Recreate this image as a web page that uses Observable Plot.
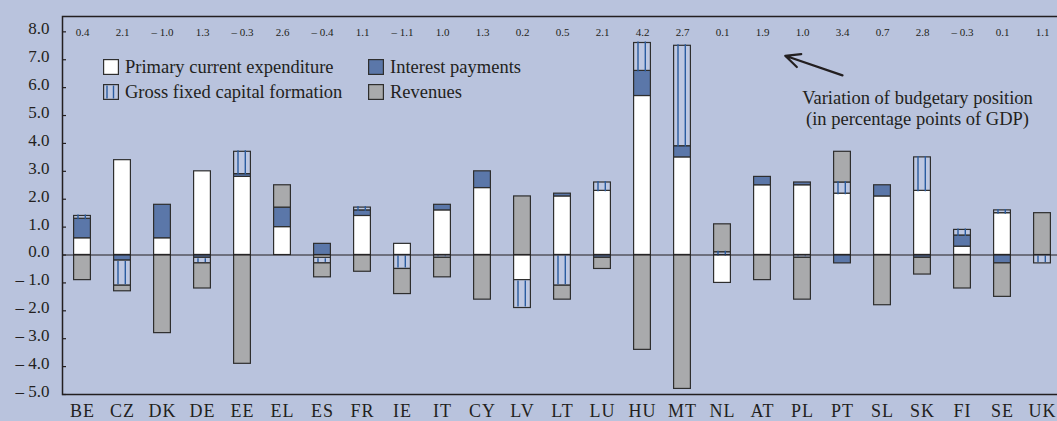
<!DOCTYPE html>
<html>
<head>
<meta charset="utf-8">
<script src="https://cdn.jsdelivr.net/npm/d3@7"></script>
<script src="https://cdn.jsdelivr.net/npm/@observablehq/plot@0.6"></script>
<style>
  html, body { margin: 0; padding: 0; background: #B9C3DD; overflow: hidden; }
  #wrap { position: relative; width: 1062px; height: 421px; font-family: "Liberation Serif", "DejaVu Serif", serif; color: #231f20; }
  #wrap svg { display: block; }
  #wrap svg, #wrap svg text { font-family: "Liberation Serif", "DejaVu Serif", serif !important; }
  g[aria-label="x-axis tick label"] text { letter-spacing: 1px; }
  g[aria-label="variation"] text { letter-spacing: 1.8px; }
  .lg-item { position: absolute; display: flex; align-items: center; font-size: 18.5px; line-height: 18.5px; white-space: nowrap; }
  .lg-item svg { margin-right: 6px; }
</style>
</head>
<body>
<div id="wrap"></div>
<script>
// ---- Data ----
const countries = ["BE","CZ","DK","DE","EE","EL","ES","FR","IE","IT","CY","LV","LT","LU","HU","MT","NL","AT","PL","PT","SL","SK","FI","SE","UK"];
const variation = [0.4, 2.1, -1.0, 1.3, -0.3, 2.6, -0.4, 1.1, -1.1, 1.0, 1.3, 0.2, 0.5, 2.1, 4.2, 2.7, 0.1, 1.9, 1.0, 3.4, 0.7, 2.8, -0.3, 0.1, 1.1];
const primaryCurrent = [0.6, 3.4, 0.6, 3.0, 2.8, 1.0, -0.1, 1.4, 0.4, 1.6, 2.4, -0.9, 2.1, 2.3, 5.7, 3.5, -1.0, 2.5, 2.5, 2.2, 2.1, 2.3, 0.3, 1.5, 0];
const interestPayments = [0.7, -0.2, 1.2, -0.1, 0.1, 0.7, 0.4, 0.2, 0, 0.2, 0.6, 0, 0.1, -0.1, 0.9, 0.4, 0, 0.3, 0.1, -0.3, 0.4, -0.1, 0.4, -0.3, 0];
const grossFixedCapital = [0.1, -0.9, 0, -0.2, 0.8, 0, -0.2, 0.1, -0.5, -0.1, 0, -1.0, -1.1, 0.3, 1.0, 3.6, 0.1, 0, -0.1, 0.4, 0, 1.2, 0.2, 0.1, -0.3];
const revenues = [-0.9, -0.2, -2.8, -0.9, -3.9, 0.8, -0.5, -0.6, -0.9, -0.7, -1.6, 2.1, -0.5, -0.4, -3.4, -4.8, 1.0, -0.9, -1.5, 1.1, -1.8, -0.6, -1.2, -1.2, 1.5];
const seriesNames = ["Primary current expenditure", "Interest payments", "Gross fixed capital formation", "Revenues"];
const seriesColors = ["#FFFFFF", "#5B77A9", "#BEC8E2", "#A9AAAC"];
const yTicks = [-5, -4, -3, -2, -1, 0, 1, 2, 3, 4, 5, 6, 7, 8];
const annotationLines = ["Variation of budgetary position", "(in percentage points of GDP)"];
const annotationAnchor = {country: "SK", value: 5.29};
const arrowSpec = {fromCountry: "PT", fromValue: 6.44, toCountry: "AT", toValue: 7.42};

// ---- Derived stacked rows (positive and negative stacked separately) ----
const seriesValues = [primaryCurrent, interestPayments, grossFixedCapital, revenues];
const rows = [];
countries.forEach((c, i) => {
  let pos = 0, neg = 0;
  seriesValues.forEach((vals, s) => {
    const v = vals[i];
    if (!v) return;
    let y1, y2;
    if (v > 0) { y1 = pos; y2 = pos + v; pos = y2; }
    else { y1 = neg; y2 = neg + v; neg = y2; }
    rows.push({country: c, series: seriesNames[s], y1, y2});
  });
});
const hatchRows = rows.filter(d => d.series === seriesNames[2]);

const fmt = v => v < 0 ? "\u2013 " + Math.abs(v).toFixed(1) : v.toFixed(1);
const ink = "#231f20";

const chart = Plot.plot({
  width: 1062,
  height: 421,
  marginLeft: 62,
  marginRight: 0,
  marginTop: 16,
  marginBottom: 27,
  style: {background: "#B9C3DD", fontFamily: "'Liberation Serif', serif", color: ink, overflow: "visible"},
  x: {domain: countries, paddingInner: 0.58, paddingOuter: 0.29, align: 0.5, round: false},
  y: {domain: [-5, 8.55]},
  color: {domain: seriesNames, range: seriesColors},
  marks: [
    Plot.barY(rows, {x: "country", y1: "y1", y2: "y2", fill: "series", stroke: "#2e2e2e", strokeWidth: 1.2}),
    Plot.ruleX(hatchRows, {x: "country", y1: "y1", y2: "y2", dx: -4.5, stroke: "#2a5ca0", strokeWidth: 1.4, insetTop: 1, insetBottom: 1}),
    Plot.ruleX(hatchRows, {x: "country", y1: "y1", y2: "y2", dx: 2.8, stroke: "#2a5ca0", strokeWidth: 1.4, insetTop: 1, insetBottom: 1}),
    Plot.ruleY([0], {stroke: ink, strokeWidth: 1.2}),
    Plot.tickY(yTicks, {y: d => d, insetRight: 996, stroke: ink, strokeWidth: 1.2}),
    Plot.frame({stroke: ink, strokeWidth: 1.5}),
    Plot.axisY({ticks: yTicks, tickFormat: fmt, tickSize: 0, tickPadding: 13, fontSize: 17, dy: -3, label: null, fill: ink}),
    Plot.axisX({tickSize: 0, tickPadding: 10, fontSize: 18, label: null, fill: ink}),
    Plot.text(countries, {x: d => d, text: (d, i) => fmt(variation[i]), frameAnchor: "top", dy: 12, fontSize: 11, fill: ink, ariaLabel: "variation"}),
    Plot.text([annotationLines.join("\n")], {x: () => annotationAnchor.country, y: () => annotationAnchor.value, text: d => d, dx: -5, fontSize: 18.5, lineHeight: 1.15, fill: ink}),
    Plot.arrow([arrowSpec], {x1: "fromCountry", y1: "fromValue", x2: "toCountry", y2: "toValue", insetEnd: 24, headLength: 11, headAngle: 50, strokeWidth: 2.2, stroke: ink})
  ]
});

const wrap = document.getElementById("wrap");
wrap.appendChild(chart);

// ---- Legend (inside the plot area, as in the reference) ----
const legendItems = [
  {name: seriesNames[0], left: 103, top: 58},
  {name: seriesNames[2], left: 103, top: 83},
  {name: seriesNames[1], left: 368, top: 58},
  {name: seriesNames[3], left: 368, top: 83}
];
legendItems.forEach(item => {
  const idx = seriesNames.indexOf(item.name);
  const div = document.createElement("div");
  div.className = "lg-item";
  div.style.left = item.left + "px";
  div.style.top = item.top + "px";
  let sw = `<svg width="16" height="16"><rect x="0.6" y="0.6" width="14.8" height="14.8" fill="${seriesColors[idx]}" stroke="#2e2e2e" stroke-width="1.2"/>`;
  if (idx === 2) sw += `<line x1="4" x2="4" y1="1.5" y2="14.5" stroke="#2a5ca0" stroke-width="1.4"/><line x1="10.5" x2="10.5" y1="1.5" y2="14.5" stroke="#2a5ca0" stroke-width="1.4"/>`;
  sw += `</svg>`;
  div.innerHTML = sw + `<span>${item.name}</span>`;
  wrap.appendChild(div);
});
</script>
</body>
</html>
